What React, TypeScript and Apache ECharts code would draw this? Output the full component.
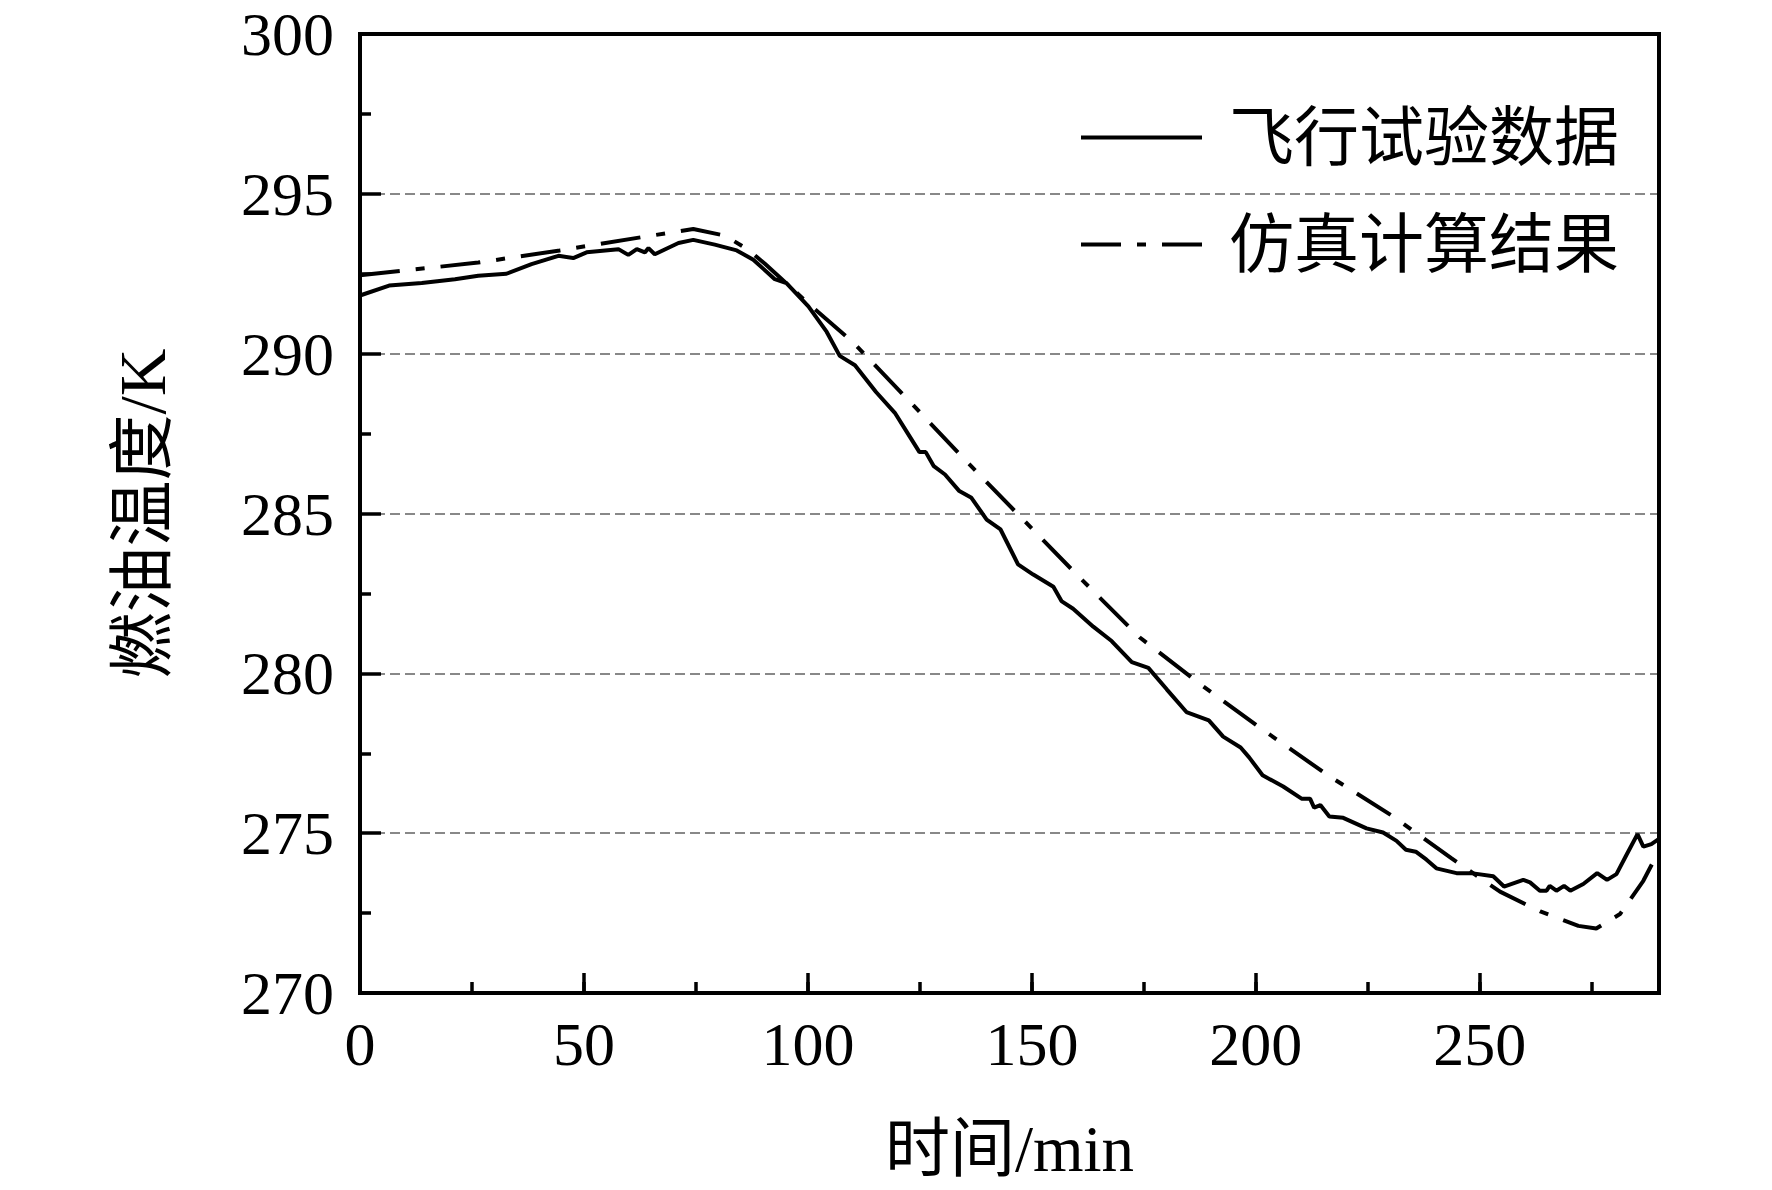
import React, { useEffect, useRef } from "react";
import * as echarts from "echarts";

// ---- data ----
const flightTime = [
  0, 6.5, 13.8, 21.2, 26.4, 32.7, 38.3, 44.3, 47.6, 50.6, 57.7, 59.9, 61.8, 63.6, 64.4, 65.8, 71.1, 74.4,
  79.2, 84.1, 87.8, 92.6, 95.2, 100.1, 104.2, 107.1, 110.5, 115.2, 119.4, 122.0, 124.9, 126.3, 128.1,
  130.6, 133.8, 136.5, 139.9, 143.0, 146.9, 150.3, 154.8, 156.6, 159.2, 163.7, 167.8, 172.3, 176.0,
  180.1, 184.5, 189.5, 192.7, 196.6, 198.5, 201.5, 206.1, 210.2, 212.1, 213.0, 214.4, 216.4, 219.5,
  224.7, 228.4, 231.4, 233.5, 235.7, 238.1, 240.3, 244.8, 248.1, 253.0, 255.4, 259.7, 261.2, 263.4,
  264.9, 265.6, 267.1, 268.8, 270.2, 273.1, 276.2, 278.4, 280.5, 282.7, 285.2, 286.5, 288.3, 290,
];
const flightTemp = [
  291.82, 292.13, 292.21, 292.33, 292.44, 292.5, 292.8, 293.06, 292.99, 293.17, 293.27, 293.09, 293.27,
  293.17, 293.3, 293.11, 293.46, 293.56, 293.41, 293.23, 292.94, 292.33, 292.21, 291.48, 290.68, 289.93,
  289.64, 288.8, 288.15, 287.57, 286.92, 286.92, 286.48, 286.22, 285.7, 285.49, 284.81, 284.5, 283.41,
  283.09, 282.71, 282.26, 282.02, 281.46, 281.01, 280.35, 280.17, 279.5, 278.79, 278.53, 278.02, 277.68,
  277.37, 276.81, 276.46, 276.08, 276.08, 275.8, 275.88, 275.52, 275.48, 275.15, 275.02, 274.76, 274.48,
  274.42, 274.17, 273.9, 273.75, 273.75, 273.65, 273.33, 273.54, 273.46, 273.2, 273.2, 273.35, 273.2,
  273.35, 273.2, 273.41, 273.75, 273.54, 273.72, 274.31, 274.97, 274.58, 274.66, 274.82,
];
const simTime = [
  0, 7.8, 26.4, 44.6, 64.0, 74.4, 81.5, 86.7, 90.4, 100.8, 104.2, 110.1, 122.0, 135.0, 147.9, 160.7,
  174.1, 187.7, 201.6, 216.1, 231.0, 243.7, 254.5, 263.5, 272.0, 276.0, 281.3, 286.5, 290,
];
const simTemp = [
  292.45, 292.57, 292.85, 293.23, 293.67, 293.9, 293.69, 293.25, 292.81, 291.48, 291.07, 290.35, 288.61,
  286.69, 284.83, 282.99, 281.12, 279.65, 278.23, 276.81, 275.49, 274.21, 273.17, 272.55, 272.1, 272.02,
  272.47, 273.51, 274.45,
];
const seriesNames = ["飞行试验数据", "仿真计算结果"];
const xTitle = "时间/min";
const yTitle = "燃油温度/K";

const FONT = "'Liberation Serif', 'Noto Sans CJK SC', serif";

export default function App() {
  const ref = useRef<HTMLDivElement>(null);

  useEffect(() => {
    if (!ref.current) return;
    const chart = echarts.init(ref.current, undefined, { renderer: "svg" });
    const flight = flightTime.map((t, i) => [t, flightTemp[i]]);
    const sim = simTime.map((t, i) => [t, simTemp[i]]);
    const dash = [40, 16, 9, 16];

    chart.setOption({
      animation: false,
      backgroundColor: "#fff",
      textStyle: { fontFamily: FONT, color: "#000" },
      grid: {
        left: 360,
        top: 34,
        right: 113,
        bottom: 197,
        show: true,
        borderColor: "#000",
        borderWidth: 4,
        backgroundColor: "transparent",
        z: 10,
      },
      legend: {
        orient: "vertical",
        left: 1079,
        top: 105,
        padding: 0,
        itemWidth: 121,
        itemHeight: 20,
        itemGap: 42,
        itemStyle: { opacity: 0, borderWidth: 0 },
        lineStyle: { width: 4, color: "#000" },
        data: [
          { name: seriesNames[0], lineStyle: { type: "solid", width: 4 } },
          { name: seriesNames[1], lineStyle: { type: dash, width: 4 } },
        ],
        textStyle: {
          fontFamily: FONT,
          fontSize: 65,
          lineHeight: 65,
          color: "#000",
          padding: [0, 0, 0, 22],
        },
      },
      xAxis: [
        {
          type: "value",
          min: 0,
          max: 290,
          interval: 50,
          name: xTitle,
          nameLocation: "middle",
          nameGap: 123,
          nameTextStyle: { fontFamily: FONT, fontSize: 65, color: "#000" },
          axisLine: { show: true, lineStyle: { color: "#000", width: 4 } },
          axisTick: { show: true, inside: true, length: 20, lineStyle: { color: "#000", width: 3.5 } },
          axisLabel: {
            show: true,
            margin: 20,
            fontFamily: FONT,
            fontSize: 62,
            color: "#000",
            showMaxLabel: false,
          },
          splitLine: { show: false },
        },
        {
          type: "value",
          min: 0,
          max: 290,
          interval: 25,
          position: "bottom",
          axisLine: { show: false },
          axisTick: { show: true, inside: true, length: 11, lineStyle: { color: "#000", width: 3.5 } },
          axisLabel: { show: false },
          splitLine: { show: false },
        },
      ],
      yAxis: {
        type: "value",
        min: 270,
        max: 300,
        interval: 5,
        name: yTitle,
        nameLocation: "middle",
        nameGap: 185,
        nameTextStyle: { fontFamily: FONT, fontSize: 66, color: "#000" },
        axisLine: { show: true, lineStyle: { color: "#000", width: 4 } },
        axisTick: { show: true, inside: true, length: 21, lineStyle: { color: "#000", width: 3.5 } },
        minorTick: { show: true, splitNumber: 2, length: 11, lineStyle: { color: "#000", width: 3.5 } },
        axisLabel: { margin: 26, fontFamily: FONT, fontSize: 62, color: "#000" },
        splitLine: {
          show: true,
          showMinLine: false,
          showMaxLine: false,
          lineStyle: { color: "#888", width: 2, type: [10, 5] },
        },
      },
      series: [
        {
          name: seriesNames[0],
          type: "line",
          data: flight,
          symbol: "none",
          smooth: false,
          lineStyle: { color: "#000", width: 4, type: "solid" },
          itemStyle: { color: "#000" },
          z: 3,
        },
        {
          name: seriesNames[1],
          type: "line",
          data: sim,
          symbol: "none",
          smooth: false,
          lineStyle: { color: "#000", width: 4, type: dash },
          itemStyle: { color: "#000" },
          z: 2,
        },
      ],
    });
    return () => chart.dispose();
  }, []);

  return (
    <div
      ref={ref}
      style={{ position: "fixed", left: 0, top: 0, width: 1772, height: 1190, background: "#fff" }}
    />
  );
}
